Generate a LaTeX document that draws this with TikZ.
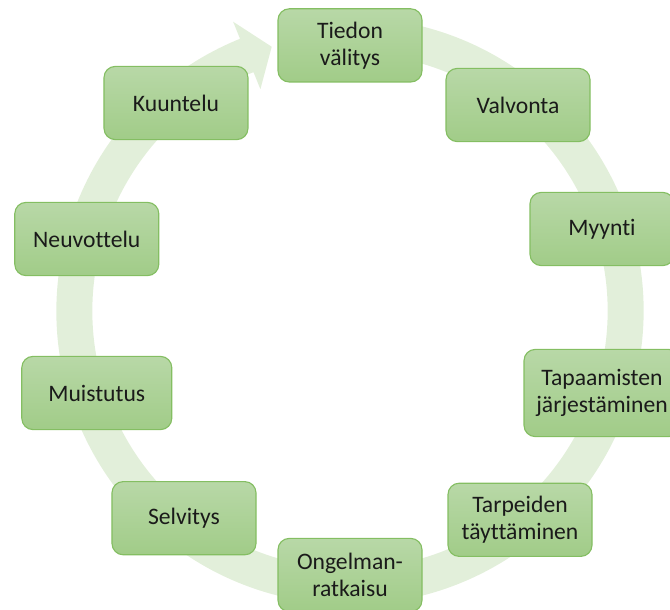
\documentclass[tikz,border=0pt]{standalone}
\usepackage{fontspec}
\setmainfont{Carlito}[Ligatures={NoCommon}]
\usetikzlibrary{positioning}
\definecolor{boxtop}{HTML}{B8D8A7}
\definecolor{boxbot}{HTML}{A1CC88}
\definecolor{boxline}{HTML}{84BE62}
\definecolor{ringfill}{HTML}{E2EFDA}
\definecolor{txt}{HTML}{1A1A1A}

\begin{document}
\begin{tikzpicture}[
  every node/.style={font=\fontsize{16.8}{19}\selectfont, text=txt},
  rbox/.style={rectangle, rounded corners=8pt, draw=boxline, line width=0.8pt,
               top color=boxtop, bottom color=boxbot,
               minimum width=3.6cm, minimum height=1.83cm, align=center, inner sep=2pt},
  ring/.style={fill=ringfill, draw=none}
]
\useasboundingbox (-8.75,-7.475) rectangle (8.0,7.775);

% circular arrow behind the boxes
\path[ring] (80:7.34) arc[start angle=80, end angle=-248, radius=7.34]
  -- (112:7.8) -- (106.5:6.89) -- (112:5.98)
  -- (112:6.44) arc[start angle=-248, end angle=80, radius=6.44] -- cycle;

\node[rbox] (TV) at (0,6.64)      {Tiedon\\välitys};
\node[rbox] (VA) at (4.2,5.15)    {Valvonta};
\node[rbox] (MY) at (6.3,2.05)    {Myynti};
\node[rbox, minimum width=3.9cm, minimum height=2.18cm] (TJ) at (6.3,-2.05) {Tapaamisten\\järjestäminen};
\node[rbox] (TT) at (4.25,-5.22)  {Tarpeiden\\täyttäminen};
\node[rbox] (OR) at (0,-6.6)      {Ongelman-\\ratkaisu};
\node[rbox] (SE) at (-4.15,-5.18) {Selvitys};
\node[rbox, minimum width=3.75cm] (MU) at (-6.33,-2.05) {Muistutus};
\node[rbox] (NE) at (-6.58,1.8)   {Neuvottelu};
\node[rbox] (KU) at (-4.35,5.2)   {Kuuntelu};

\end{tikzpicture}
\end{document}
